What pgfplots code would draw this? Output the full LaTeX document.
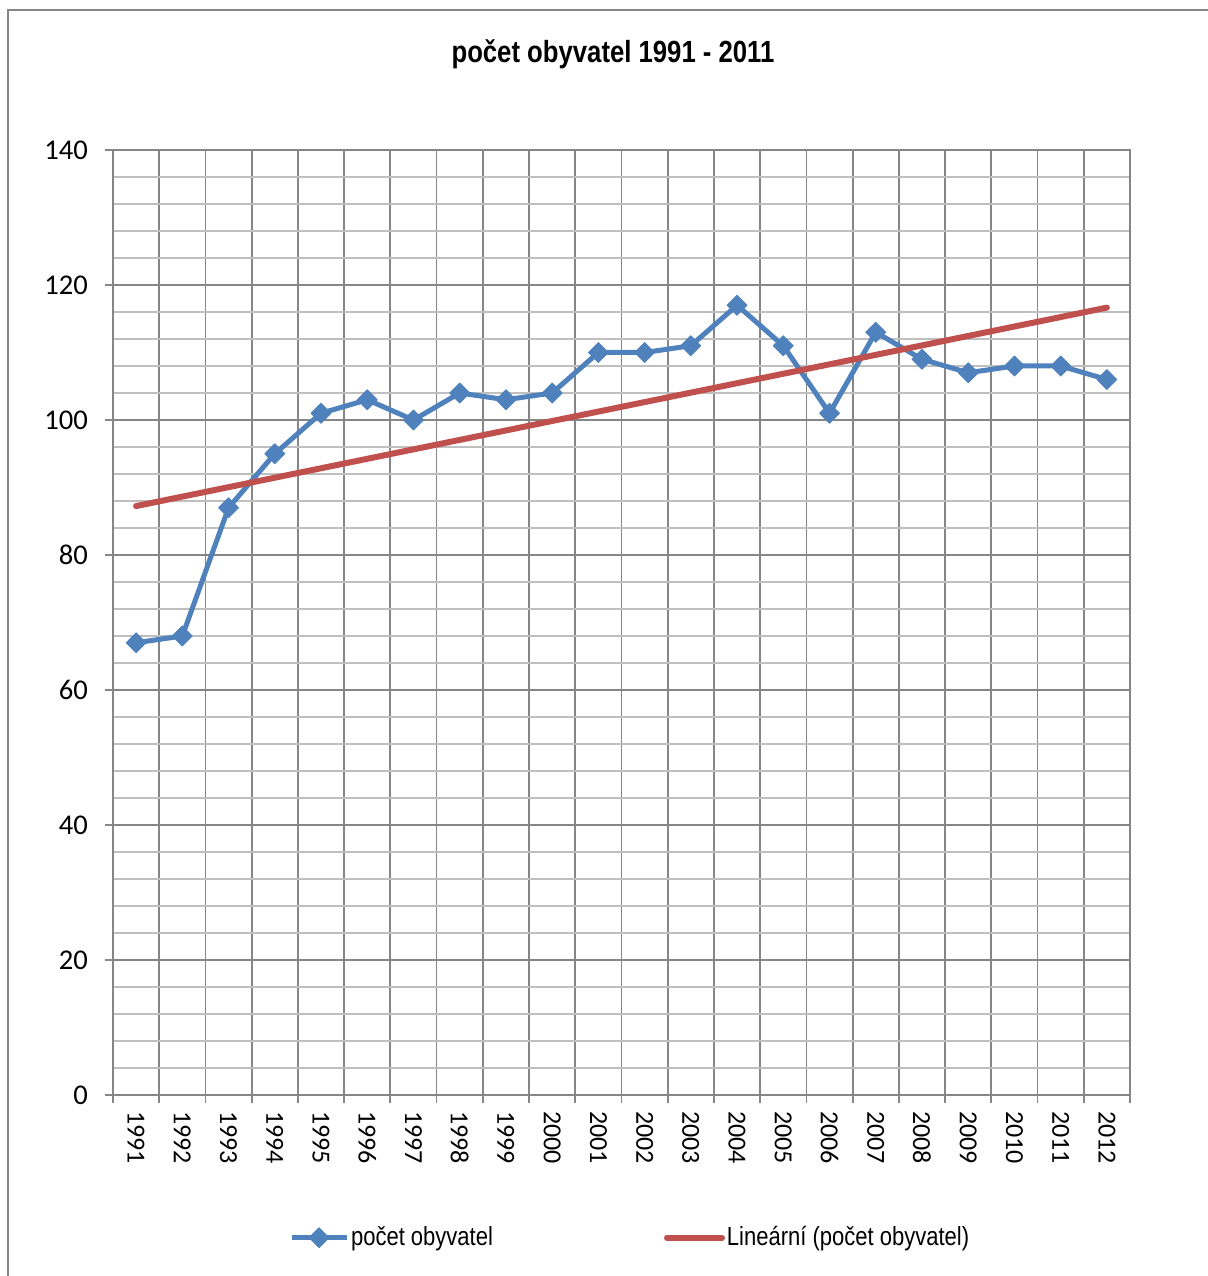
\documentclass[border=0pt]{standalone}
\usepackage{pgfplots}
\pgfplotsset{compat=1.18}
\usepackage{fontspec}
\setmainfont{Carlito}
\newfontfamily\narrow[FakeStretch=0.84]{Liberation Sans}
\definecolor{serblue}{HTML}{4F81BD}
\definecolor{serred}{HTML}{C0504D}
\definecolor{gridmaj}{HTML}{868686}
\definecolor{gridmin}{HTML}{BFBFBF}
\begin{document}
\begin{tikzpicture}[x=0.5pt,y=0.5pt]
\useasboundingbox (-113,-181) rectangle (1095,1095);
\draw[gridmaj, line width=1pt] (-105,-185) rectangle (1099,1085);
\begin{axis}[
  at={(0,0)}, anchor=south west,
  scale only axis, width=508.5pt, height=472.5pt,
  xmin=-0.5, xmax=21.5, ymin=0, ymax=140,
  xtick={0,...,21},
  xticklabels={1991,1992,1993,1994,1995,1996,1997,1998,1999,2000,2001,2002,2003,2004,2005,2006,2007,2008,2009,2010,2011,2012},
  major x tick style={draw=none},
  minor xtick={-0.5,0.5,...,21.5},
  x tick label style={rotate=-90, anchor=west, font=\fontsize{13pt}{14pt}\selectfont},
  xticklabel shift=0.5pt,
  ytick={0,20,...,140},
  minor ytick={4,8,...,136},
  y tick label style={font=\fontsize{14.3pt}{16pt}\selectfont},
  yticklabel shift=5pt,
  /pgf/number format/assume math mode=true,
  xminorgrids, ymajorgrids, yminorgrids,
  minor x grid style={gridmaj, line width=0.9pt},
  major y grid style={gridmaj, line width=0.9pt},
  minor y grid style={gridmin, line width=0.9pt},
  axis line style={gridmaj, line width=0.9pt},
  tick style={gridmaj, line width=0.9pt},
  major tick length=4pt, minor tick length=4pt,
  tick align=outside,
  xtick pos=bottom, ytick pos=left,
  minor y tick style={draw=none},
  legend columns=2,
  legend style={at={(0.5085,-0.151)}, anchor=center, draw=none, fill=none,
    font=\narrow\fontsize{13.1pt}{15pt}\selectfont,
    nodes={inner sep=1pt},
    /tikz/every even column/.append style={column sep=84.5pt},
    inner sep=0pt},
  legend cell align=left,
  legend image code/.code={
    \draw[#1, mark repeat=2, mark phase=2] plot coordinates {(0pt,0pt) (13.75pt,0pt) (27.5pt,0pt)};
  },
]
\addplot[serblue, line width=2.5pt, line join=round, mark=square*, mark size=3.5pt,
  mark options={rotate=45, solid, line width=0.5pt}]
  coordinates {(0,67) (1,68) (2,87) (3,95) (4,101) (5,103) (6,100) (7,104) (8,103) (9,104) (10,110) (11,110) (12,111) (13,117) (14,111) (15,101) (16,113) (17,109) (18,107) (19,108) (20,108) (21,106)};
\addlegendentry{počet obyvatel}
\addplot[serred, line width=3pt, line cap=round, no marks]
  coordinates {(0,87.25) (21,116.65)};
\addlegendentry{Lineární (počet obyvatel)}
\end{axis}
\node[font=\narrow\bfseries\fontsize{15.3pt}{18pt}\selectfont, anchor=base] at (500,1032) {počet obyvatel 1991 - 2011};
\end{tikzpicture}
\end{document}
